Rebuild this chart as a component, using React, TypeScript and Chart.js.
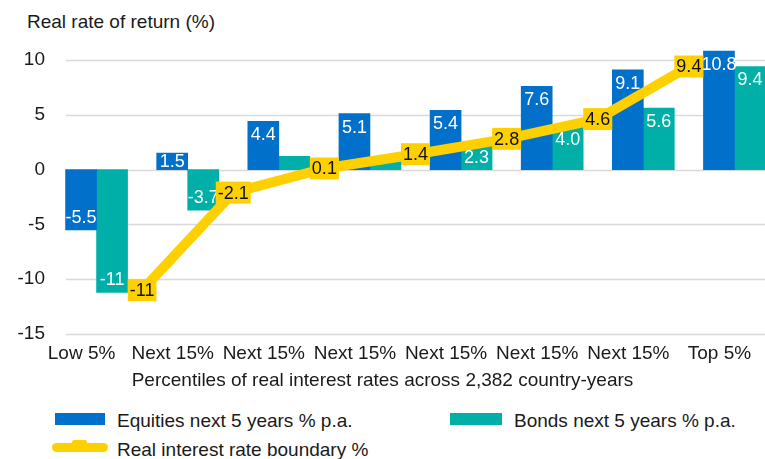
import React, { useEffect, useRef } from "react";
import { Chart, registerables } from "chart.js";

Chart.register(...registerables);

const categories = ["Low 5%", "Next 15%", "Next 15%", "Next 15%", "Next 15%", "Next 15%", "Next 15%", "Top 5%"];
const equities = [-5.5, 1.5, 4.4, 5.1, 5.4, 7.6, 9.1, 10.8];
const bonds = [-11.2, -3.7, 1.2, 0.8, 2.3, 4.0, 5.6, 9.4];
const bondLabels = ["-11", "-3.7", null, null, "2.3", "4.0", "5.6", "9.4"];
const equityLabels = ["-5.5", "1.5", "4.4", "5.1", "5.4", "7.6", "9.1", "10.8"];
const boundaryPos = [0.5, 1.5, 2.5, 3.5, 4.5, 5.5, 6.5];
const boundary = [-11, -2.1, 0.1, 1.4, 2.8, 4.6, 9.4];
const boundaryLabels = ["-11", "-2.1", "0.1", "1.4", "2.8", "4.6", "9.4"];
const yTicks = [-15, -10, -5, 0, 5, 10];

const BLUE = "#0070CA";
const TEAL = "#00B0A8";
const YELLOW = "#FFD000";
const TEXT = "#1a1a1a";
const FONT = "'Liberation Sans', Arial, sans-serif";
const FS = 19;
const BAR_SHIFT = 0.17;
const BAR_PX = 31;

const gridPlugin = {
  id: "customGrid",
  beforeDatasetsDraw(chart: any) {
    const { ctx, chartArea, scales } = chart;
    ctx.save();
    ctx.strokeStyle = "#d9d9d9";
    ctx.lineWidth = 1.5;
    for (const v of yTicks) {
      const y = Math.round(scales.y.getPixelForValue(v)) + 0.5;
      ctx.beginPath();
      ctx.moveTo(66, y);
      ctx.lineTo(chartArea.right + 20, y);
      ctx.stroke();
    }
    ctx.restore();
  },
};

const labelPlugin = {
  id: "dataLabels",
  afterDatasetsDraw(chart: any) {
    const { ctx } = chart;
    ctx.save();
    ctx.font = `18px ${FONT}`;
    ctx.textAlign = "center";
    ctx.textBaseline = "middle";
    const barSets = [
      { idx: 0, vals: equities, labels: equityLabels },
      { idx: 1, vals: bonds, labels: bondLabels },
    ];
    for (const s of barSets) {
      const meta = chart.getDatasetMeta(s.idx);
      meta.data.forEach((el: any, i: number) => {
        const lab = s.labels[i];
        if (!lab) return;
        const h = Math.abs(el.base - el.y);
        const off = Math.min(13, h / 2);
        const y = s.vals[i] >= 0 ? el.y + off : el.y - off;
        ctx.fillStyle = "#ffffff";
        ctx.fillText(lab, el.x, y + 1);
      });
    }
    const lm = chart.getDatasetMeta(2);
    lm.data.forEach((el: any, i: number) => {
      const lab = boundaryLabels[i];
      const w = ctx.measureText(lab).width + 4;
      const h = 22;
      ctx.fillStyle = YELLOW;
      ctx.fillRect(el.x - w / 2, el.y - h / 2, w, h);
      ctx.fillStyle = "#111";
      ctx.fillText(lab, el.x, el.y + 1);
    });
    ctx.restore();
  },
};

export default function App() {
  const ref = useRef<HTMLCanvasElement>(null);
  useEffect(() => {
    if (!ref.current) return;
    const chart = new Chart(ref.current, {
      type: "bar",
      data: {
        labels: categories,
        datasets: [
          {
            type: "bar",
            label: "Equities next 5 years % p.a.",
            data: equities.map((y, i) => ({ x: i - BAR_SHIFT, y })) as any,
            xAxisID: "x2",
            backgroundColor: BLUE,
            barThickness: BAR_PX,
            grouped: false,
            order: 1,
          } as any,
          {
            type: "bar",
            label: "Bonds next 5 years % p.a.",
            data: bonds.map((y, i) => ({ x: i + BAR_SHIFT, y })) as any,
            xAxisID: "x2",
            backgroundColor: TEAL,
            barThickness: BAR_PX,
            grouped: false,
            order: 1,
          } as any,
          {
            type: "line",
            label: "Real interest rate boundary %",
            data: boundaryPos.map((x, i) => ({ x, y: boundary[i] })) as any,
            xAxisID: "x2",
            borderColor: YELLOW,
            borderWidth: 10,
            pointRadius: 0,
            borderJoinStyle: "round",
            tension: 0,
            order: 0,
          } as any,
        ],
      },
      options: {
        animation: false,
        responsive: false,
        maintainAspectRatio: false,
        layout: { padding: { top: 38, right: 0, left: 0, bottom: 0 } },
        plugins: { legend: { display: false }, tooltip: { enabled: false }, title: { display: false } },
        scales: {
          x: {
            type: "category",
            offset: true,
            grid: { display: false, drawTicks: false },
            border: { display: false },
            ticks: {
              color: TEXT,
              font: { family: FONT, size: FS },
              padding: 8,
              labelOffset: -15,
              maxRotation: 0,
              autoSkip: false,
            },
            afterFit: (s: any) => {
              s.height = 66;
            },
          },
          x2: {
            type: "linear",
            display: false,
            offset: false,
            grace: 0,
            min: -0.5,
            max: 7.5,
          },
          y: {
            min: -15,
            max: 12,
            grid: { display: false, drawTicks: false },
            border: { display: false },
            ticks: {
              stepSize: 5,
              includeBounds: false,
              color: TEXT,
              font: { family: FONT, size: FS },
              padding: 6,
            },
            afterFit: (s: any) => {
              s.width = 51;
            },
          },
        },
      },
      plugins: [gridPlugin, labelPlugin],
    });
    return () => chart.destroy();
  }, []);

  const legendText: React.CSSProperties = {
    position: "absolute",
    fontFamily: FONT,
    fontSize: FS,
    color: TEXT,
    lineHeight: "20px",
    whiteSpace: "nowrap",
  };

  return (
    <div
      style={{
        position: "absolute",
        left: 0,
        top: 0,
        width: 765,
        height: 459,
        overflow: "hidden",
        background: "#fff",
      }}
    >
      <div style={{ ...legendText, left: 27, top: 12 }}>Real rate of return (%)</div>
      <canvas ref={ref} width={780} height={400} style={{ position: "absolute", left: 0, top: 0 }} />
      <div style={{ ...legendText, left: 0, width: 765, textAlign: "center", top: 370 }}>
        Percentiles of real interest rates across 2,382 country-years
      </div>
      <div style={{ position: "absolute", left: 55, top: 413, width: 50, height: 12, background: BLUE }} />
      <div style={{ ...legendText, left: 117, top: 411 }}>Equities next 5 years % p.a.</div>
      <div style={{ position: "absolute", left: 450, top: 413, width: 52, height: 12, background: TEAL }} />
      <div style={{ ...legendText, left: 514, top: 411 }}>Bonds next 5 years % p.a.</div>
      <div
        style={{
          position: "absolute",
          left: 52,
          top: 443,
          width: 56,
          height: 9,
          borderRadius: 5,
          background: YELLOW,
        }}
      />
      <div style={{ position: "absolute", left: 72, top: 440, width: 15, height: 6, background: YELLOW, borderRadius: 2 }} />
      <div style={{ ...legendText, left: 117, top: 440 }}>Real interest rate boundary %</div>
    </div>
  );
}
